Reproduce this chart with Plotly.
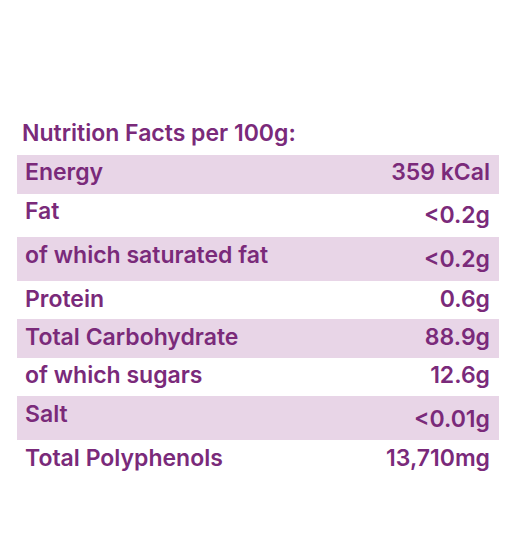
import plotly.graph_objects as go

nutrients = ["Energy", "Fat", "of which saturated fat", "Protein",
             "Total Carbohydrate", "of which sugars", "Salt", "Total Polyphenols"]
amounts = ["359 kCal", "<0.2g", "<0.2g", "0.6g", "88.9g", "12.6g", "<0.01g", "13,710mg"]

purple = "#7a2a7a"
band = "#e8d5e7"
row_fill = [band if i % 2 == 0 else "white" for i in range(1, len(nutrients))]
font = dict(family="Inter, Roboto, sans-serif", size=23, color=purple, weight=600)

fig = go.Figure(go.Table(
    domain=dict(x=[9 / 516, 490 / 516], y=[0.0, 1 - 147 / 546]),
    columnwidth=[7, 3],
    header=dict(values=[nutrients[0], amounts[0]], height=38.4,
                fill_color=band, line_color=band, line_width=1,
                align=["left", "right"], font=font),
    cells=dict(values=[nutrients[1:], amounts[1:]], height=38.4,
               fill_color=[row_fill, row_fill], line_color=[row_fill, row_fill], line_width=1,
               align=["left", "right"], font=font),
))

fig.add_annotation(text="Nutrition Facts per 100g:", x=12 / 516, y=1 - 125 / 546,
                   xref="paper", yref="paper", xanchor="left", yanchor="middle",
                   showarrow=False, font=font)

fig.update_layout(width=516, height=546, margin=dict(l=0, r=0, t=0, b=0),
                  paper_bgcolor="white", plot_bgcolor="white")
fig.write_html("out.html")
